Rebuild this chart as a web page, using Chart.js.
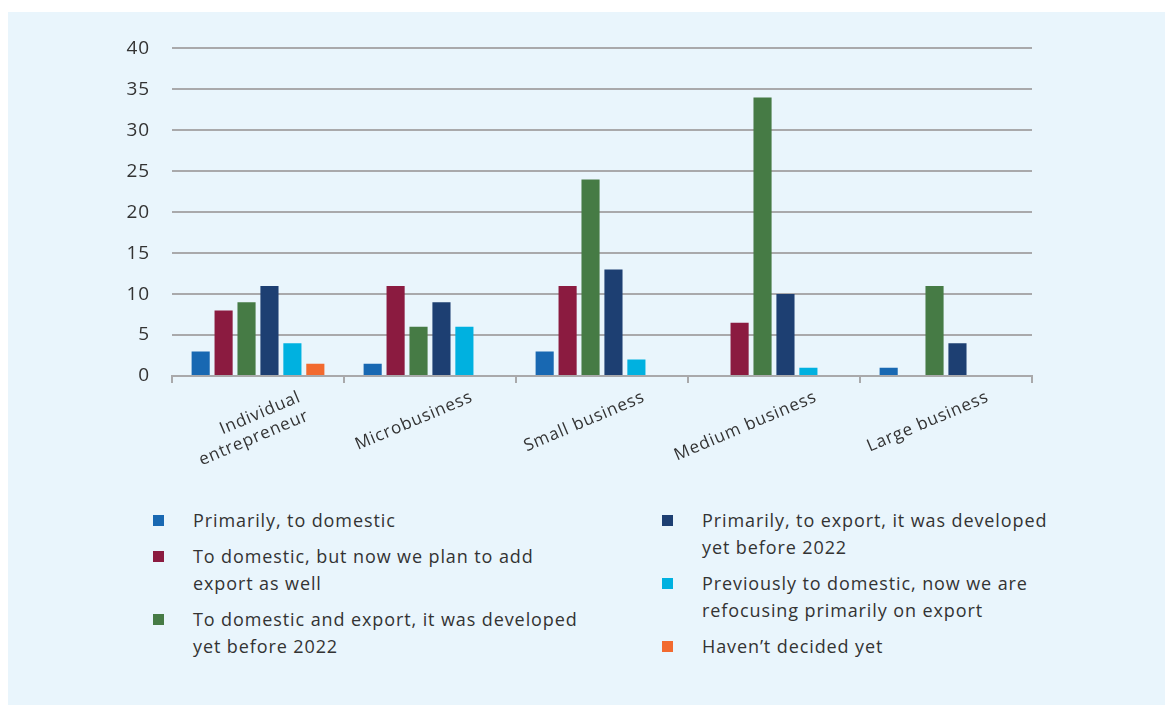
<!DOCTYPE html>
<html>
<head>
<meta charset="utf-8">
<script src="https://cdn.jsdelivr.net/npm/chart.js@4.4.1/dist/chart.umd.min.js"></script>
<style>
  body { margin: 0; background: #fff; font-family: "Open Sans", sans-serif; }
  #panel { position: absolute; left: 8px; top: 12px; width: 1157px; height: 693px; background: #e9f5fc; }
  #wrap { position: absolute; left: 0; top: 3px; width: 1157px; height: 470px; }
  .legend { position: absolute; color: #333; font-size: 18px; line-height: 27px; letter-spacing: 0.9px; }
  .item { position: relative; padding-left: 40px; margin-bottom: 9px; }
  .box { position: absolute; left: 0; top: 8px; width: 11px; height: 11px; }
</style>
</head>
<body>
<div id="panel">
  <div id="wrap"><canvas id="chart"></canvas></div>
  <div class="legend" id="legLeft" style="left:145px; top:495px; width:440px;"></div>
  <div class="legend" id="legRight" style="left:654px; top:495px; width:395px;"></div>
</div>
<script>
const categories = [['Individual', 'entrepreneur'], 'Microbusiness', 'Small business', 'Medium business', 'Large business'];

const seriesNames = [
  'Primarily, to domestic',
  'To domestic, but now we plan to add export as well',
  'To domestic and export, it was developed yet before 2022',
  'Primarily, to export, it was developed yet before 2022',
  'Previously to domestic, now we are refocusing primarily on export',
  'Haven\u2019t decided yet'
];
const seriesColors = ['#1868b2', '#8b1b40', '#467b45', '#1d3f72', '#00b1e0', '#f26a2f'];

const primarilyDomestic = [3, 1.5, 3, 0, 1];
const domesticPlanExport = [8, 11, 11, 6.5, 0];
const domesticAndExport = [9, 6, 24, 34, 11];
const primarilyExport = [11, 9, 13, 10, 4];
const refocusingExport = [4, 6, 2, 1, 0];
const notDecided = [1.5, 0, 0, 0, 0];

const yTicks = [0, 5, 10, 15, 20, 25, 30, 35, 40];

const seriesValues = [primarilyDomestic, domesticPlanExport, domesticAndExport, primarilyExport, refocusingExport, notDecided];

const datasets = seriesValues.map((vals, i) => ({
  label: seriesNames[i],
  data: vals,
  backgroundColor: seriesColors[i],
  borderWidth: 0,
  categoryPercentage: 0.8,
  barPercentage: 0.79
}));

// legend in two columns, drawn as html
const leftCol = document.getElementById('legLeft');
const rightCol = document.getElementById('legRight');
seriesNames.forEach((name, i) => {
  const el = document.createElement('div');
  el.className = 'item';
  el.innerHTML = '<span class="box" style="background:' + seriesColors[i] + '"></span>' + name;
  (i < 3 ? leftCol : rightCol).appendChild(el);
});

// a bit of tracking on the axis text
const spacing = {
  id: 'spacing',
  beforeInit: (chart) => { chart.ctx.letterSpacing = '0.9px'; },
  beforeDraw: (chart) => { chart.ctx.letterSpacing = '0.9px'; }
};

const ctx = document.getElementById('chart').getContext('2d');
new Chart(ctx, {
  type: 'bar',
  data: { labels: categories, datasets: datasets },
  plugins: [spacing],
  options: {
    responsive: true,
    maintainAspectRatio: false,
    animation: false,
    layout: { padding: { top: 28, right: 133, bottom: 0, left: 0 } },
    plugins: { legend: { display: false }, tooltip: { enabled: false } },
    scales: {
      x: {
        offset: true,
        grid: { display: true, drawOnChartArea: false, drawTicks: true, tickLength: 7, color: '#a9a9ab', lineWidth: 2 },
        border: { display: true, color: '#a9a9ab', width: 2 },
        ticks: {
          color: '#333',
          font: { family: 'Open Sans', size: 17 },
          minRotation: 23,
          maxRotation: 23,
          labelOffset: 42,
          padding: 4
        },
        afterFit: (scale) => { scale.height = 109; }
      },
      y: {
        min: 0,
        max: 40,
        afterBuildTicks: (scale) => { scale.ticks = yTicks.map(v => ({ value: v })); },
        grid: { color: '#a9a9ab', lineWidth: 2, drawTicks: false },
        border: { display: false },
        ticks: { color: '#333', font: { family: 'Open Sans', size: 19 }, padding: 22 },
        afterFit: (scale) => { scale.width = 164; }
      }
    }
  }
});
</script>
</body>
</html>
